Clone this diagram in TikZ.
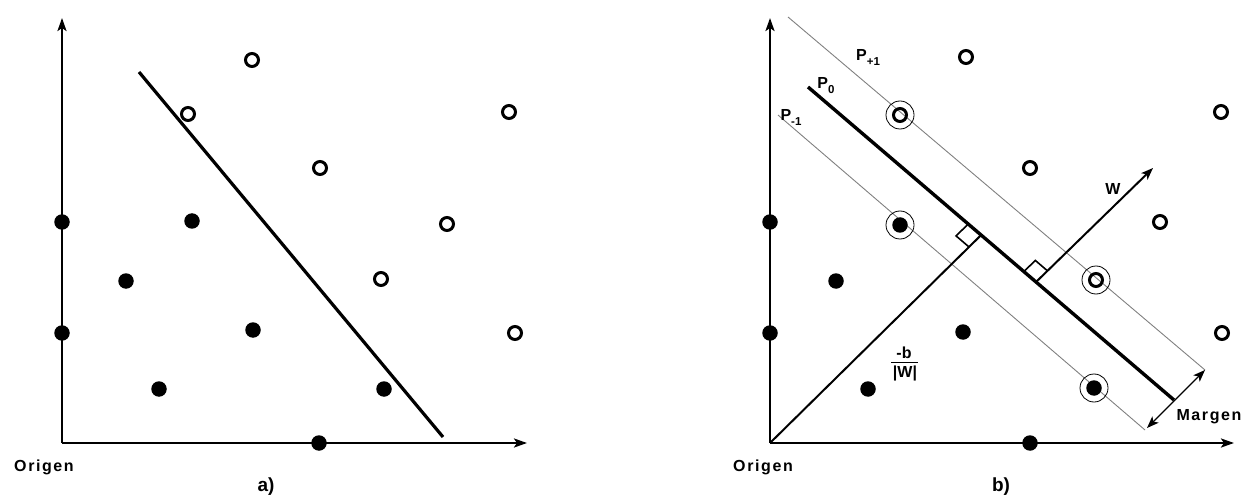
\documentclass[tikz,border=0pt]{standalone}
\usepackage{fontspec}
\setmainfont{Liberation Sans}
\usetikzlibrary{arrows.meta,calc}
\newcommand{\subl}[1]{\raisebox{-5pt}{\fontsize{11.5}{12}\selectfont #1}}
\begin{document}
\begin{tikzpicture}[x=1pt,y=-1pt,
  axis/.style={line width=2.4pt,-{Stealth[length=13pt,width=9pt,inset=3pt]}},
  sep/.style={line width=3.2pt},
  thin/.style={line width=0.9pt,gray},
  perp/.style={line width=2pt},
  hol/.style={circle,draw,line width=3pt,inner sep=0pt,minimum size=13pt},
  fil/.style={circle,fill,inner sep=0pt,minimum size=15.5pt},
  ring/.style={circle,draw,line width=0.8pt,inner sep=0pt,minimum size=28pt},
  lab/.style={font=\bfseries\fontsize{16}{18}\selectfont\addfontfeature{LetterSpace=10}},
  plab/.style={font=\bfseries\fontsize{16}{18}\selectfont,inner sep=0pt}
]
\useasboundingbox (0,0) rectangle (1253,497);
% ---------- panel a ----------
\coordinate (Oa) at (62,443);
\coordinate (Ya) at (62,18);
\coordinate (Xa) at (527,443);
\draw[axis] (Oa) -- (Ya);
\draw[axis] (Oa) -- (Xa);
\coordinate (la1) at (139,72);
\coordinate (la2) at (443,437);
\draw[sep] (la1) -- (la2);
\node[hol] (ah1) at (252,60) {};
\node[hol] (ah2) at (188,114) {};
\node[hol] (ah3) at (320,168) {};
\node[hol] (ah4) at (509,112) {};
\node[hol] (ah5) at (447,224) {};
\node[hol] (ah6) at (381,279) {};
\node[hol] (ah7) at (515,333) {};
\node[fil] (af1) at (62,222) {};
\node[fil] (af2) at (192,221) {};
\node[fil] (af3) at (126,281) {};
\node[fil] (af4) at (62,333) {};
\node[fil] (af5) at (253,330) {};
\node[fil] (af6) at (159,389) {};
\node[fil] (af7) at (384,389) {};
\node[fil] (af8) at (319,443) {};
\node[lab] (orga) at (44,467) {Origen};
\node[font=\bfseries\fontsize{19}{21}\selectfont] (capa) at (266,487) {a)};
% ---------- panel b ----------
\coordinate (Ob) at (770,443);
\coordinate (Yb) at (770,18);
\coordinate (Xb) at (1234,443);
\coordinate (P0a) at (808,87);
\coordinate (P0b) at (1174,400);
\coordinate (Ppa) at (788,17);
\coordinate (Ppb) at (1205,370);
\coordinate (Pma) at (778,115);
\coordinate (Pmb) at (1145,430);
\draw[thin] (Ppa) -- (Ppb);
\draw[thin] (Pma) -- (Pmb);
\draw[axis] (Ob) -- (Yb);
\draw[axis] (Ob) -- (Xb);
\draw[sep,line width=3.4pt] (P0a) -- (P0b);
\coordinate (F1) at ($(P0a)!0.473!(P0b)$);
\coordinate (F2) at ($(P0a)!0.623!(P0b)$);
\coordinate (Wt) at (1153,168);
\draw[perp] (Ob) -- (F1);
\draw[perp,-{Stealth[length=12pt,width=9pt,inset=3pt]}] (F2) -- (Wt);
% right angle marks
\coordinate (r1a) at ($(F1)!17pt!(P0a)$);
\coordinate (r1b) at ($(F1)!17pt!(Ob)$);
\draw[line width=1.6pt] (r1a) -- ($(r1a)+(r1b)-(F1)$) -- (r1b);
\coordinate (r2a) at ($(F2)!16pt!(P0a)$);
\coordinate (r2b) at ($(F2)!16pt!(Wt)$);
\draw[line width=1.6pt] (r2a) -- ($(r2a)+(r2b)-(F2)$) -- (r2b);
% margin arrow
\coordinate (m1) at (1205,370);
\coordinate (m2) at (1147,428);
\draw[line width=1.3pt,{Stealth[length=12pt,width=9pt,inset=3pt]}-{Stealth[length=12pt,width=9pt,inset=3pt]}] (m2) -- (m1);
% points
\node[hol] (bh1) at (966,57) {};
\node[hol] (bh2) at (900,115) {};
\node[hol] (bh3) at (1221,112) {};
\node[hol] (bh4) at (1030,168) {};
\node[hol] (bh5) at (1160,222) {};
\node[hol] (bh6) at (1096,280) {};
\node[hol] (bh7) at (1222,333) {};
\node[fil] (bf1) at (770,222) {};
\node[fil] (bf2) at (900,225) {};
\node[fil] (bf3) at (836,281) {};
\node[fil] (bf4) at (770,333) {};
\node[fil] (bf5) at (963,332) {};
\node[fil] (bf6) at (868,389) {};
\node[fil] (bf7) at (1094,388) {};
\node[fil] (bf8) at (1030,443) {};
\node[ring] (rg1) at (bh2) {};
\node[ring] (rg2) at (bf2) {};
\node[ring] (rg3) at (bh6) {};
\node[ring] (rg4) at (bf7) {};
% labels
\node[plab] (lpp) at (868,57) {P\subl{+1}};
\node[plab] (lp0) at (826,86) {P\subl{0}};
\node[plab] (lpm) at (791,117) {P\subl{-1}};
\node[plab] (lw) at (1113,189) {W};
\node[plab] (lbn) at (904,353) {-b};
\node[plab] (lbd) at (905,373) {|W|};
\draw[line width=1.3pt] (891,362.5) -- (918,362.5);
\node[lab] (lmar) at (1209,417) {Margen};
\node[lab] (orgb) at (763,467) {Origen};
\node[font=\bfseries\fontsize{19}{21}\selectfont] (capb) at (1001,487) {b)};
\end{tikzpicture}
\end{document}
